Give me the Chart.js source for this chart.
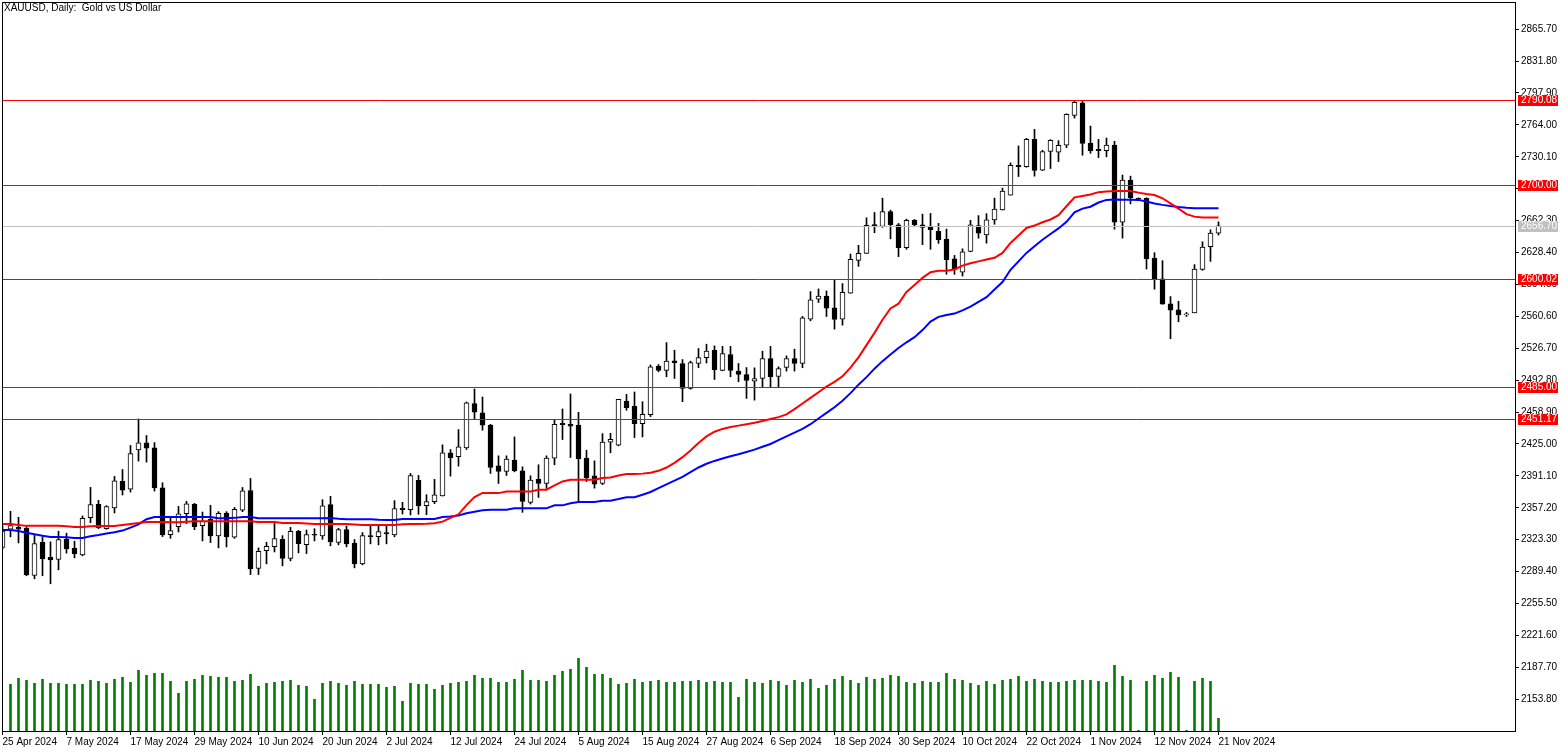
<!DOCTYPE html>
<html>
<head>
<meta charset="utf-8">
<title>XAUUSD, Daily</title>
<script src="https://cdn.jsdelivr.net/npm/chart.js@4.4.1/dist/chart.umd.min.js"></script>
<style>
	html, body { margin: 0; padding: 0; background: #fff; }
	canvas { display: block; }
</style>
</head>
<body>
<canvas id="chart" width="1568" height="753"></canvas>
<script>
// daily bars, 25 Apr 2024 .. 21 Nov 2024 (index 0 .. 152)
var opens = [
	2315.0, 2334.4, 2336.5, 2335.4, 2285.3, 2320.6, 2304.7, 2302.3, 2323.8, 2314.3,
	2307.2, 2346.7, 2360.9, 2335.1, 2357.0, 2385.2, 2377.1, 2418.8, 2426.2, 2420.9,
	2378.5, 2328.7, 2337.2, 2350.9, 2360.8, 2338.2, 2344.9, 2327.3, 2351.6, 2325.9,
	2354.8, 2375.6, 2292.7, 2311.7, 2316.0, 2323.7, 2303.3, 2332.2, 2318.1, 2328.7,
	2327.3, 2360.5, 2320.3, 2334.0, 2319.6, 2297.7, 2327.4, 2326.6, 2330.9, 2328.4,
	2356.6, 2355.2, 2386.3, 2359.5, 2363.7, 2369.7, 2415.6, 2411.4, 2420.9, 2467.9,
	2458.0, 2445.2, 2401.8, 2395.8, 2407.8, 2396.5, 2363.0, 2387.7, 2383.1, 2409.9,
	2447.0, 2445.9, 2445.2, 2409.9, 2391.2, 2383.1, 2426.9, 2423.7, 2470.6, 2465.0,
	2446.6, 2456.2, 2507.7, 2503.1, 2513.3, 2510.5, 2484.0, 2510.5, 2516.8, 2524.6,
	2503.1, 2520.0, 2502.4, 2498.8, 2491.8, 2494.6, 2515.8, 2496.7, 2506.2, 2515.8,
	2510.5, 2557.6, 2578.8, 2582.0, 2569.6, 2557.6, 2585.1, 2620.1, 2627.5, 2657.8,
	2656.1, 2672.0, 2657.9, 2633.5, 2662.5, 2657.9, 2656.5, 2650.8, 2642.7, 2621.7,
	2607.6, 2629.5, 2657.0, 2647.1, 2663.0, 2673.5, 2689.4, 2721.1, 2719.7, 2748.6,
	2715.8, 2735.9, 2734.9, 2742.3, 2774.0, 2787.4, 2744.7, 2738.1, 2736.5, 2742.5,
	2660.6, 2705.4, 2685.5, 2686.0, 2622.5, 2600.3, 2573.8, 2567.5, 2562.2, 2564.3,
	2610.5, 2634.5, 2649.0
];
var highs = [
	2338.0, 2353.5, 2347.1, 2337.2, 2329.1, 2326.3, 2321.0, 2332.3, 2330.2, 2321.7,
	2348.5, 2378.9, 2365.1, 2359.5, 2390.5, 2397.9, 2423.4, 2451.6, 2434.0, 2426.5,
	2383.8, 2346.0, 2358.7, 2364.0, 2361.9, 2352.7, 2359.8, 2353.1, 2353.1, 2357.6,
	2378.8, 2388.4, 2314.6, 2320.6, 2341.4, 2327.6, 2336.5, 2333.3, 2333.6, 2335.0,
	2365.8, 2369.4, 2335.5, 2337.9, 2323.5, 2330.9, 2337.9, 2337.9, 2337.9, 2364.8,
	2363.0, 2393.7, 2391.6, 2371.1, 2387.4, 2424.1, 2419.1, 2440.3, 2469.6, 2483.4,
	2474.9, 2445.9, 2412.4, 2412.4, 2432.5, 2400.7, 2391.2, 2402.9, 2412.4, 2450.9,
	2462.2, 2478.1, 2458.6, 2418.4, 2407.1, 2436.0, 2436.4, 2472.4, 2477.7, 2480.2,
	2469.9, 2509.0, 2509.4, 2532.7, 2524.6, 2514.7, 2513.0, 2526.4, 2531.0, 2529.2,
	2528.8, 2528.8, 2510.5, 2506.2, 2505.9, 2523.6, 2528.8, 2507.0, 2518.6, 2525.7,
	2560.5, 2586.9, 2589.7, 2587.6, 2599.3, 2595.4, 2626.8, 2636.0, 2665.3, 2670.9,
	2686.1, 2673.4, 2659.3, 2663.9, 2663.5, 2669.2, 2669.9, 2659.3, 2653.3, 2625.3,
	2632.3, 2662.6, 2667.6, 2669.7, 2686.2, 2696.8, 2723.6, 2741.6, 2749.7, 2759.2,
	2737.0, 2748.3, 2747.2, 2775.8, 2789.2, 2790.1, 2762.7, 2748.6, 2750.0, 2746.5,
	2710.7, 2709.5, 2686.5, 2686.5, 2628.2, 2619.7, 2581.6, 2576.6, 2564.7, 2615.5,
	2639.8, 2652.5, 2661.0
];
var lows = [
	2313.2, 2326.3, 2319.9, 2285.0, 2281.8, 2285.0, 2276.5, 2291.3, 2309.0, 2304.0,
	2306.1, 2341.4, 2335.1, 2334.4, 2351.7, 2370.8, 2373.9, 2406.8, 2405.7, 2375.0,
	2326.6, 2324.8, 2331.5, 2340.3, 2334.0, 2322.0, 2320.2, 2314.6, 2315.6, 2324.8,
	2353.1, 2286.3, 2286.3, 2297.6, 2310.3, 2295.5, 2300.8, 2309.3, 2308.6, 2322.0,
	2323.7, 2316.8, 2317.8, 2315.7, 2293.4, 2296.6, 2318.9, 2317.8, 2318.9, 2326.3,
	2350.6, 2349.6, 2350.3, 2349.9, 2361.6, 2369.7, 2390.9, 2401.5, 2419.1, 2451.6,
	2439.6, 2393.7, 2383.1, 2391.6, 2395.4, 2352.4, 2361.2, 2368.2, 2377.8, 2402.9,
	2429.7, 2410.6, 2363.3, 2385.2, 2378.1, 2381.7, 2415.6, 2423.0, 2460.8, 2431.8,
	2432.5, 2454.0, 2501.7, 2496.4, 2494.6, 2469.9, 2483.3, 2506.0, 2511.0, 2493.5,
	2502.7, 2496.4, 2491.1, 2473.4, 2471.6, 2485.1, 2485.1, 2485.1, 2502.4, 2502.4,
	2506.0, 2555.8, 2575.3, 2560.4, 2547.0, 2551.2, 2585.1, 2613.7, 2627.5, 2649.4,
	2655.1, 2643.0, 2624.0, 2631.8, 2655.8, 2636.7, 2631.8, 2638.1, 2605.3, 2605.2,
	2603.4, 2629.1, 2643.6, 2638.3, 2658.4, 2673.5, 2689.4, 2709.1, 2719.0, 2709.5,
	2715.5, 2717.6, 2725.0, 2739.8, 2771.2, 2731.7, 2733.8, 2729.2, 2730.0, 2653.2,
	2643.7, 2680.0, 2684.5, 2610.9, 2589.4, 2573.5, 2536.8, 2554.8, 2560.4, 2564.3,
	2609.5, 2619.0, 2646.9
];
var closes = [
	2332.6, 2338.3, 2334.4, 2286.0, 2319.2, 2303.0, 2301.9, 2323.4, 2313.5, 2308.3,
	2346.0, 2360.5, 2336.2, 2358.4, 2385.9, 2376.0, 2414.9, 2426.2, 2420.5, 2378.2,
	2328.4, 2332.9, 2350.9, 2361.5, 2337.2, 2342.8, 2327.3, 2351.3, 2326.2, 2355.5,
	2375.3, 2292.3, 2311.0, 2316.3, 2324.5, 2303.3, 2332.2, 2319.2, 2328.7, 2328.0,
	2359.4, 2321.0, 2334.0, 2318.9, 2297.7, 2327.7, 2326.6, 2331.9, 2329.5, 2356.3,
	2355.2, 2391.3, 2359.1, 2363.7, 2371.1, 2415.6, 2410.3, 2422.0, 2468.6, 2458.7,
	2444.9, 2400.0, 2395.8, 2408.9, 2396.5, 2364.0, 2386.6, 2383.1, 2409.9, 2445.9,
	2445.6, 2443.8, 2409.2, 2389.1, 2382.4, 2426.9, 2430.0, 2472.4, 2463.6, 2446.6,
	2456.5, 2507.0, 2503.1, 2513.0, 2511.5, 2484.0, 2511.5, 2516.8, 2523.6, 2503.8,
	2521.1, 2503.1, 2498.8, 2492.5, 2494.6, 2515.8, 2496.4, 2505.2, 2515.8, 2510.5,
	2559.0, 2578.1, 2582.0, 2569.2, 2557.2, 2586.2, 2621.2, 2627.5, 2657.2, 2657.0,
	2672.0, 2657.9, 2633.5, 2662.5, 2657.9, 2655.1, 2652.6, 2642.0, 2620.8, 2610.4,
	2629.1, 2657.7, 2648.9, 2663.0, 2674.6, 2693.6, 2721.1, 2719.7, 2748.6, 2715.5,
	2735.6, 2747.6, 2742.3, 2775.1, 2787.8, 2744.4, 2736.6, 2736.6, 2742.5, 2660.6,
	2705.4, 2686.7, 2685.0, 2621.8, 2600.3, 2573.5, 2567.1, 2562.2, 2562.4, 2610.9,
	2634.2, 2649.0, 2656.7
];
var maRed = [
	2340.0, 2340.0, 2339.0, 2338.0, 2338.0, 2338.0, 2338.0, 2338.0, 2337.5, 2336.8,
	2336.8, 2337.5, 2337.9, 2337.9, 2337.9, 2339.0, 2340.0, 2341.0, 2342.2, 2342.2,
	2342.2, 2341.8, 2341.8, 2342.5, 2342.8, 2342.8, 2342.8, 2342.8, 2342.8, 2342.8,
	2342.8, 2342.8, 2342.0, 2342.1, 2342.1, 2341.0, 2341.0, 2341.0, 2340.5, 2340.0,
	2340.0, 2340.0, 2340.0, 2340.0, 2339.5, 2339.0, 2339.0, 2339.0, 2339.0, 2339.0,
	2339.8, 2340.0, 2340.0, 2340.2, 2340.8, 2342.5, 2346.5, 2350.3, 2360.0, 2368.5,
	2373.0, 2372.8, 2372.8, 2374.6, 2374.6, 2374.6, 2374.6, 2376.4, 2376.4, 2381.0,
	2385.2, 2387.0, 2387.0, 2387.0, 2387.0, 2388.8, 2389.5, 2391.6, 2393.0, 2393.0,
	2393.5, 2394.5, 2396.5, 2400.0, 2405.0, 2411.0, 2418.0, 2426.0, 2433.0, 2438.0,
	2441.0, 2443.0, 2444.5, 2446.0, 2447.5, 2449.5, 2451.5, 2453.5, 2456.5, 2462.0,
	2468.0, 2474.0, 2480.0, 2486.0, 2491.0, 2497.0, 2506.0, 2517.0, 2530.0, 2543.0,
	2557.0, 2569.0, 2574.0, 2586.5, 2594.0, 2601.5, 2607.5, 2609.0, 2609.0, 2610.4,
	2614.5, 2617.0, 2619.0, 2621.0, 2622.8, 2628.0, 2638.5, 2646.5, 2654.5, 2657.0,
	2660.5, 2663.5, 2668.0, 2677.5, 2687.0, 2688.5, 2690.0, 2692.5, 2693.1, 2693.8,
	2693.8, 2693.8, 2692.0, 2690.5, 2689.5, 2686.0, 2680.5, 2675.0, 2669.1, 2666.5,
	2665.6, 2665.6, 2665.6
];
var maBlue = [
	2333.7, 2333.7, 2332.6, 2330.8, 2329.1, 2327.6, 2326.3, 2326.3, 2325.8, 2325.2,
	2325.2, 2327.0, 2328.4, 2330.0, 2331.2, 2333.0, 2336.2, 2339.5, 2345.0, 2347.4,
	2347.4, 2347.4, 2347.4, 2347.4, 2347.4, 2347.4, 2347.4, 2346.0, 2346.0, 2346.5,
	2347.4, 2347.4, 2346.0, 2346.0, 2346.0, 2346.0, 2346.0, 2346.0, 2346.0, 2346.0,
	2346.0, 2346.4, 2345.5, 2345.0, 2345.0, 2345.0, 2345.0, 2344.5, 2344.3, 2344.3,
	2345.3, 2345.3, 2345.3, 2345.3, 2345.3, 2347.5, 2348.0, 2349.0, 2351.5, 2353.0,
	2354.5, 2355.2, 2355.2, 2355.2, 2356.6, 2356.6, 2356.6, 2356.6, 2356.6, 2359.8,
	2359.8, 2362.0, 2363.3, 2363.3, 2363.3, 2364.7, 2364.7, 2366.5, 2368.5, 2368.5,
	2371.1, 2374.0, 2378.0, 2382.0, 2386.0, 2390.0, 2395.0, 2400.0, 2404.0, 2407.0,
	2409.5, 2412.0, 2414.0, 2416.5, 2419.0, 2422.0, 2425.0, 2429.0, 2433.0, 2437.0,
	2441.0, 2446.0, 2452.0, 2458.0, 2464.0, 2471.0, 2479.0, 2488.0, 2496.0, 2505.0,
	2513.0, 2520.0, 2527.0, 2533.0, 2538.5, 2546.0, 2555.0, 2560.0, 2562.0, 2563.5,
	2567.0, 2571.0, 2576.0, 2581.0, 2589.0, 2597.0, 2610.0, 2619.0, 2628.0, 2635.0,
	2642.0, 2648.0, 2654.0, 2661.0, 2671.0, 2675.0, 2677.0, 2681.5, 2684.3, 2684.6,
	2684.5, 2684.4, 2684.3, 2682.5, 2680.5, 2679.0, 2677.8, 2676.8, 2676.0, 2675.5,
	2675.4, 2675.4, 2675.4
];
// tick volume, thousands
var volumes = [
	null, 46.7, 52.7, 50.7, 47.7, 51.7, 47.7, 47.7, 46.7, 46.7,
	46.7, 50.7, 49.7, 47.7, 51.7, 53.7, 48.7, 60.7, 55.7, 57.7,
	57.7, 49.7, 37.7, 49.7, 51.7, 55.7, 54.7, 53.7, 53.7, 49.7,
	50.7, 56.7, 44.7, 47.7, 48.7, 49.7, 50.7, 45.7, 44.7, 31.7,
	47.7, 49.7, 47.7, 45.7, 49.7, 46.7, 46.7, 46.7, 43.7, 44.7,
	29.7, 47.7, 46.7, 46.7, 41.7, 45.7, 47.7, 48.7, 49.7, 55.7,
	52.7, 52.7, 48.7, 48.7, 51.7, 60.7, 50.7, 50.7, 49.7, 55.7,
	59.7, 61.7, 72.7, 63.7, 56.7, 56.7, 52.7, 46.7, 47.7, 51.7,
	48.7, 49.7, 50.7, 48.7, 48.7, 49.7, 49.7, 50.7, 48.7, 49.7,
	48.7, 48.7, 33.7, 51.7, 48.7, 47.7, 50.7, 49.7, 45.7, 50.7,
	48.7, 51.7, 42.7, 45.7, 51.7, 54.7, 50.7, 47.7, 53.7, 51.7,
	52.7, 55.7, 54.7, 48.7, 47.7, 49.7, 48.7, 48.7, 57.7, 51.7,
	50.7, 47.7, 45.7, 49.7, 46.7, 50.7, 51.7, 54.7, 49.7, 51.7,
	49.7, 48.7, 48.7, 49.7, 50.7, 50.7, 50.7, 49.7, 48.7, 65.7,
	54.7, 50.7, 0.5, 49.7, 55.7, 52.7, 58.7, 53.7, 0.5, 49.7,
	52.7, 49.7, 12.7
];
var dateLabels = [
	'25 Apr 2024', '7 May 2024', '17 May 2024', '29 May 2024', '10 Jun 2024',
	'20 Jun 2024', '2 Jul 2024', '12 Jul 2024', '24 Jul 2024', '5 Aug 2024',
	'15 Aug 2024', '27 Aug 2024', '6 Sep 2024', '18 Sep 2024', '30 Sep 2024',
	'10 Oct 2024', '22 Oct 2024', '1 Nov 2024', '12 Nov 2024', '21 Nov 2024'
];
var priceTicks = [
	2865.70, 2831.80, 2797.90, 2764.00, 2730.10, 2696.20, 2662.30, 2628.40, 2594.50, 2560.60, 2526.70,
	2492.80, 2458.90, 2425.00, 2391.10, 2357.20, 2323.30, 2289.40, 2255.50, 2221.60, 2187.70, 2153.80
];
var levels = [2790.08, 2700.00, 2600.02, 2485.00, 2451.17];
var lastPrice = 2656.70;

var LABEL_STEP = 8;
var BODY_INDEX = 3;
var FONT_FAMILY = '"Liberation Sans", Arial, sans-serif';

Chart.defaults.font.family = FONT_FAMILY;
Chart.defaults.font.size = 10;
Chart.defaults.color = '#000';

function perBar(fn) {
	var out = [];
	for(var i = 0; i < closes.length; i++) {
		out.push(fn(i));
	}
	return out;
}

// keep the plot frame where the terminal puts it, no room for label overhang
function noPadding(scale) {
	scale.paddingTop = 0;
	scale.paddingBottom = 0;
	scale.paddingLeft = 0;
	scale.paddingRight = 0;
}

var decor = {
	id: 'decor',
	beforeDraw: function(chart) {
		var ctx = chart.ctx;
		ctx.save();
		ctx.fillStyle = '#fff';
		ctx.fillRect(0, 0, chart.width, chart.height);
		ctx.restore();
	},
	afterDatasetDraw: function(chart, args) {
		if(args.index != BODY_INDEX) {
			return;
		}
		var ctx = chart.ctx;
		var area = chart.chartArea;
		var y = chart.scales.y;
		var hline = function(v, colour) {
			var py = Math.round(y.getPixelForValue(v)) + 0.5;
			ctx.strokeStyle = colour;
			ctx.beginPath();
			ctx.moveTo(area.left, py);
			ctx.lineTo(area.right, py);
			ctx.stroke();
		};

		ctx.save();
		ctx.lineWidth = 1;
		hline(lastPrice, '#c0c0c0');
		levels.forEach(function(v) {
			hline(v, '#ff0000');
		});
		ctx.restore();
	},
	afterDraw: function(chart) {
		var ctx = chart.ctx;
		var area = chart.chartArea;
		var y = chart.scales.y;

		ctx.save();
		ctx.strokeStyle = '#000';
		ctx.lineWidth = 1;
		ctx.strokeRect(area.left + 0.5, area.top + 0.5, area.right - area.left, area.bottom - area.top);

		ctx.font = '10px ' + FONT_FAMILY;
		ctx.fillStyle = '#000';
		ctx.textBaseline = 'alphabetic';
		ctx.fillText('XAUUSD, Daily:  Gold vs US Dollar', 4, 11);

		// price tags on the axis
		ctx.textBaseline = 'middle';
		var tag = function(v, colour) {
			var ty = Math.round(y.getPixelForValue(v));
			ctx.fillStyle = colour;
			ctx.fillRect(area.right + 3, ty - 5, 40, 11);
			ctx.fillStyle = '#fff';
			ctx.fillText(v.toFixed(2), area.right + 6, ty + 0.5);
		};
		tag(lastPrice, '#c0c0c0');
		levels.forEach(function(v) {
			tag(v, '#ff0000');
		});
		ctx.restore();
	}
};

new Chart(document.getElementById('chart'), {
	type: 'bar',
	data: {
		datasets: [{
			type: 'line',
			label: 'MA red',
			data: maRed.map(function(v, i) { return {x: i, y: v}; }),
			borderColor: '#ff0000',
			borderWidth: 2,
			pointRadius: 0,
			clip: 0,
			order: 0
		}, {
			type: 'line',
			label: 'MA blue',
			data: maBlue.map(function(v, i) { return {x: i, y: v}; }),
			borderColor: '#0000ff',
			borderWidth: 2,
			pointRadius: 0,
			clip: 0,
			order: 0
		}, {
			label: 'wick',
			data: perBar(function(i) { return {x: i, y: [lows[i], highs[i]]}; }),
			backgroundColor: '#000',
			barThickness: 1,
			clip: 0,
			order: 2
		}, {
			label: 'body',
			data: perBar(function(i) { return {x: i, y: [opens[i], closes[i]]}; }),
			backgroundColor: perBar(function(i) { return closes[i] >= opens[i] ? '#fff' : '#000'; }),
			borderColor: '#000',
			borderWidth: 1,
			barThickness: 5,
			minBarLength: 1,
			clip: 0,
			order: 1
		}, {
			label: 'volume',
			yAxisID: 'vol',
			data: perBar(function(i) { return {x: i, y: volumes[i]}; }),
			backgroundColor: '#008000',
			barThickness: 2,
			clip: 0,
			order: 3
		}]
	},
	options: {
		responsive: false,
		animation: false,
		devicePixelRatio: 1,
		layout: {
			padding: {left: 2, top: 2, right: 0, bottom: 0},
			autoPadding: false
		},
		plugins: {
			legend: {display: false},
			tooltip: {enabled: false}
		},
		datasets: {
			bar: {grouped: false, borderSkipped: false}
		},
		scales: {
			x: {
				type: 'linear',
				min: -0.0625,
				max: 189.0625,
				offset: false,
				afterBuildTicks: function(scale) {
					scale.ticks = dateLabels.map(function(label, k) {
						return {value: k * LABEL_STEP};
					});
				},
				afterFit: function(scale) {
					scale.height = 22;
					noPadding(scale);
				},
				grid: {offset: false, drawOnChartArea: false, tickLength: 4, color: '#000'},
				border: {display: false},
				ticks: {
					autoSkip: false,
					maxRotation: 0,
					align: 'start',
					padding: 1,
					callback: function(value) {
						return dateLabels[Math.round(value / LABEL_STEP)];
					}
				}
			},
			y: {
				type: 'linear',
				position: 'right',
				min: 2120.1,
				max: 2894.5,
				afterBuildTicks: function(scale) {
					scale.ticks = priceTicks.slice().reverse().map(function(v) {
						return {value: v};
					});
				},
				afterFit: function(scale) {
					scale.width = 53;
					noPadding(scale);
				},
				grid: {drawOnChartArea: false, tickLength: 4, color: '#000'},
				border: {display: false},
				ticks: {
					autoSkip: false,
					padding: 2,
					callback: function(value) {
						return value.toFixed(2);
					}
				}
			},
			vol: {
				type: 'linear',
				display: false,
				min: 0,
				max: 729
			}
		}
	},
	plugins: [decor]
});
</script>
</body>
</html>
